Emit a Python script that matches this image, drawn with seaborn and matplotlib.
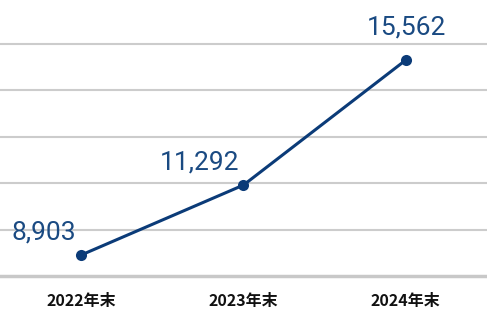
import matplotlib
matplotlib.use("Agg")
import matplotlib.pyplot as plt
import seaborn as sns
import pandas as pd

categories = ["2022年末", "2023年末", "2024年末"]
values = [8903, 11292, 15562]
value_labels = ["8,903", "11,292", "15,562"]

sns.set_theme(style="white")
plt.rcParams['font.family'] = ['Noto Sans CJK JP', 'DejaVu Sans']

df = pd.DataFrame({"cat": categories, "val": values, "x": [0, 1, 2]})

fig = plt.figure(figsize=(4.87, 3.11), dpi=100)
ax = fig.add_axes([0, 35 / 311, 1, 276 / 311])

line_color = "#0b3b78"
sns.lineplot(data=df, x="x", y="val", ax=ax, color=line_color, linewidth=2.2,
             marker="o", markersize=8, markeredgewidth=0, zorder=3)

y0 = 8186
step = 1588
ax.set_ylim(y0, 17612)
ax.set_xlim(-0.5, 2.5)
ax.set_yticks([y0 + k * step for k in range(1, 6)])
ax.yaxis.grid(True, color="#cccccc", linewidth=1.5)
ax.set_yticklabels([])
ax.tick_params(axis="y", length=0)

ax.set_xticks([0, 1, 2])
ax.set_xticklabels(categories, fontsize=11.5, fontweight="bold", color="#111111")
ax.tick_params(axis="x", length=0, pad=12.5)
ax.set_xlabel("")
ax.set_ylabel("")

for s in ["top", "left", "right"]:
    ax.spines[s].set_visible(False)
ax.spines["bottom"].set_color("#c8c8c8")
ax.spines["bottom"].set_linewidth(2.5)

offsets = [(-37, 23), (-44, 23), (1, 33)]
for i, (v, lab) in enumerate(zip(values, value_labels)):
    dx, dy = offsets[i]
    ax.annotate(lab, (i, v), xytext=(dx * 0.72, dy * 0.72), textcoords="offset points",
                ha="center", va="center", fontsize=19, color="#1a4a82",
                fontfamily="Roboto")

fig.savefig("out.png", dpi=100)
